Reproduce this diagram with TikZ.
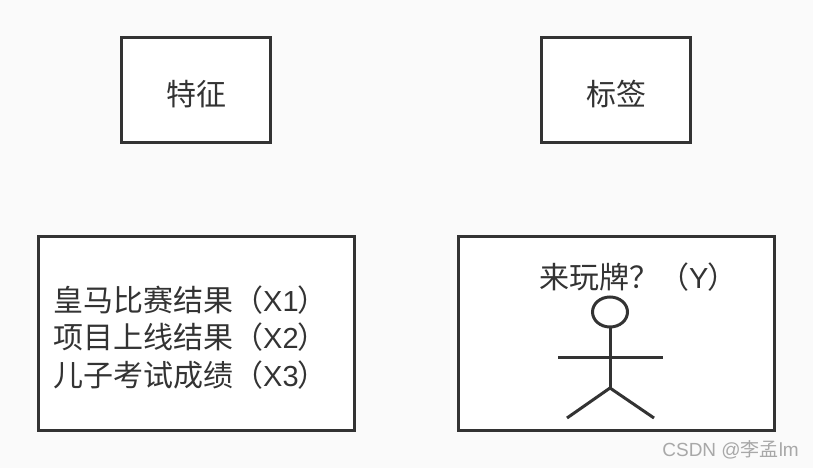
\documentclass[tikz,border=0pt]{standalone}
\usepackage{fontspec}
\newfontfamily\cjk{Noto Sans CJK SC}
\newfontfamily\wm{Liberation Sans}
\newcommand{\lat}[1]{{\wm\fontsize{29}{29}\selectfont #1}\kern-1pt}
\definecolor{ink}{HTML}{333333}
\definecolor{bg}{HTML}{FAFAFA}
\definecolor{mark}{HTML}{A8A8A8}
\tikzset{x=1pt,y=-1pt,
 boxx/.style={draw=ink,line width=3pt,fill=white,inner sep=0pt},
 lab/.style={text=ink,font=\cjk\fontsize{30}{30}\selectfont,inner sep=0pt,anchor=base west},
 fig/.style={draw=ink,line width=3pt}}
\begin{document}
\begin{tikzpicture}
\fill[bg] (0,0) rectangle (813,468);
\useasboundingbox (0,0) rectangle (813,468);
\draw[boxx] (121,38) rectangle (270.5,142);
\draw[boxx] (541,38) rectangle (690.5,142);
\draw[boxx] (38,236) rectangle (354.5,430);
\draw[boxx] (458,236) rectangle (774.5,430);
\node[lab] (t1) at (166,106) {特征};
\node[lab] (t2) at (586,106) {标签};
\node[lab] (l1) at (53,311.5) {皇马比赛结果（\lat{X1}）};
\node[lab] (l2) at (53,348.5) {项目上线结果（\lat{X2}）};
\node[lab] (l3) at (53,386.5) {儿子考试成绩（\lat{X3}）};
\node[lab] (y) at (539,288) {来玩牌？（\lat{Y}）};
\coordinate (neck) at (610,327);
\coordinate (hip) at (610,388);
\draw[fig] (610,312) ellipse (17.5 and 15);
\draw[fig] (neck) -- (hip);
\draw[fig] (558,357) -- (663,357);
\draw[fig] (567,418) -- (hip) -- (654,418);
\node[text=mark,font=\wm\fontsize{19}{19}\selectfont,anchor=east,inner sep=0pt] (w) at (799,450) {CSDN @{\cjk 李孟}lm};
\end{tikzpicture}
\end{document}
